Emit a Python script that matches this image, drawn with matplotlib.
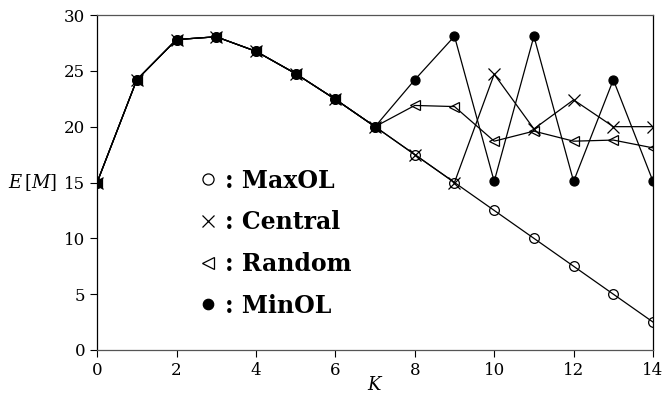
import numpy as np
import matplotlib
matplotlib.use("Agg")
import matplotlib.pyplot as plt
from matplotlib.lines import Line2D

plt.rcParams["font.family"] = ["DejaVu Serif"]
plt.rcParams["mathtext.fontset"] = "dejavuserif"

K = np.arange(15)
common = [15.0, 24.2, 27.8, 28.05, 26.75, 24.75, 22.45, 20.0]
maxol = common + [17.5, 15.0, 12.5, 10.0, 7.5, 5.0, 2.5]
central = common + [17.5, 15.0, 24.7, 19.8, 22.4, 20.0, 20.0]
random_ = common + [21.9, 21.8, 18.7, 19.6, 18.7, 18.8, 18.1]
minol = common + [24.2, 28.1, 15.1, 28.1, 15.1, 24.2, 15.1]

series = [
    (maxol, "o", "none", 7, ": MaxOL"),
    (central, "x", "black", 8, ": Central"),
    (random_, "<", "none", 7, ": Random"),
    (minol, "o", "black", 6.5, ": MinOL"),
]

fig = plt.figure(figsize=(6.65, 4.0), dpi=100)
ax = fig.add_axes([0.146, 0.125, 0.836, 0.8375])

handles = []
for vals, mk, fc, ms, lab in series:
    ax.plot(K, vals, color="black", lw=0.9, marker=mk, ms=ms,
            mfc=fc, mec="black", mew=0.9)
    handles.append(Line2D([], [], ls="none", marker=mk, ms=ms + 1,
                          mfc=fc, mec="black", mew=0.9, label=lab))

ax.set_xlim(0, 14)
ax.set_ylim(0, 30)
ax.set_xticks(np.arange(0, 15, 2))
ax.set_yticks(np.arange(0, 31, 5))
ax.tick_params(direction="out", length=5, width=0.8, labelsize=12,
               top=False, right=False)
for s in ax.spines.values():
    s.set_linewidth(0.9)
ax.spines["bottom"].set_color("#555555")
ax.spines["top"].set_color("#555555")

ax.set_xlabel(r"$K$", fontsize=13, labelpad=-2)
ax.text(-0.072, 15, r"$E\,[M]$", fontsize=13, ha="right", va="center",
        transform=ax.get_yaxis_transform())

ax.legend(handles=handles, loc="upper left", bbox_to_anchor=(0.145, 0.605),
          frameon=False, handlelength=0.8, handletextpad=0.3,
          labelspacing=0.75, prop={"family": "DejaVu Serif", "weight": "bold", "size": 17})

fig.savefig("out.png", dpi=100)
